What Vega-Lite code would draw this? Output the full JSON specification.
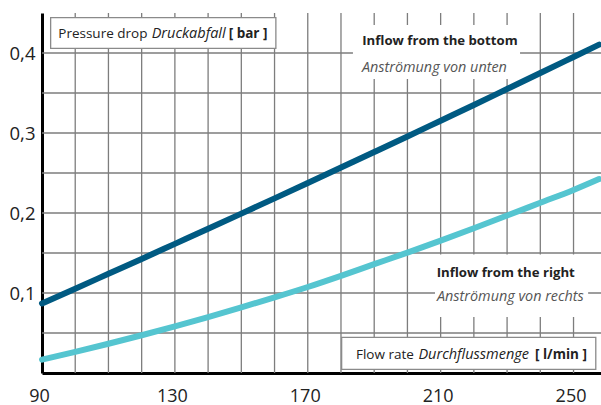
{
  "$schema": "https://vega.github.io/schema/vega-lite/v6.json",
  "width": 559,
  "height": 360,
  "autosize": {"type": "none"},
  "padding": {"left": 42, "top": 13, "right": 0, "bottom": 32},
  "background": "white",
  "config": {"view": {"stroke": null}, "font": "Open Sans"},
  "datasets": {
    "curves": [
      {"series": "bottom", "flow": 90, "dp": 0.087},
      {"series": "bottom", "flow": 100, "dp": 0.1054},
      {"series": "bottom", "flow": 110, "dp": 0.124},
      {"series": "bottom", "flow": 120, "dp": 0.1426},
      {"series": "bottom", "flow": 130, "dp": 0.1614},
      {"series": "bottom", "flow": 140, "dp": 0.1802},
      {"series": "bottom", "flow": 150, "dp": 0.1992},
      {"series": "bottom", "flow": 160, "dp": 0.2183},
      {"series": "bottom", "flow": 170, "dp": 0.2375},
      {"series": "bottom", "flow": 180, "dp": 0.2568},
      {"series": "bottom", "flow": 190, "dp": 0.2762},
      {"series": "bottom", "flow": 200, "dp": 0.2957},
      {"series": "bottom", "flow": 210, "dp": 0.3154},
      {"series": "bottom", "flow": 220, "dp": 0.3351},
      {"series": "bottom", "flow": 230, "dp": 0.355},
      {"series": "bottom", "flow": 240, "dp": 0.3749},
      {"series": "bottom", "flow": 250, "dp": 0.395},
      {"series": "bottom", "flow": 257.7, "dp": 0.4105},
      {"series": "right", "flow": 90, "dp": 0.0167},
      {"series": "right", "flow": 100, "dp": 0.0264},
      {"series": "right", "flow": 110, "dp": 0.0366},
      {"series": "right", "flow": 120, "dp": 0.0472},
      {"series": "right", "flow": 130, "dp": 0.0583},
      {"series": "right", "flow": 140, "dp": 0.0699},
      {"series": "right", "flow": 150, "dp": 0.082},
      {"series": "right", "flow": 160, "dp": 0.0945},
      {"series": "right", "flow": 170, "dp": 0.1075},
      {"series": "right", "flow": 180, "dp": 0.1215},
      {"series": "right", "flow": 190, "dp": 0.136},
      {"series": "right", "flow": 200, "dp": 0.1505},
      {"series": "right", "flow": 210, "dp": 0.1655},
      {"series": "right", "flow": 220, "dp": 0.181},
      {"series": "right", "flow": 230, "dp": 0.1968},
      {"series": "right", "flow": 240, "dp": 0.2128},
      {"series": "right", "flow": 250, "dp": 0.2288},
      {"series": "right", "flow": 257.7, "dp": 0.2425}
    ],
    "xGrid": [
      {"flow": 100}, {"flow": 110}, {"flow": 120}, {"flow": 130}, {"flow": 140},
      {"flow": 150}, {"flow": 160}, {"flow": 170}, {"flow": 180}, {"flow": 190},
      {"flow": 200}, {"flow": 210}, {"flow": 220}, {"flow": 230}, {"flow": 240},
      {"flow": 250}
    ],
    "yGrid": [
      {"dp": 0.05}, {"dp": 0.1}, {"dp": 0.15}, {"dp": 0.2}, {"dp": 0.25},
      {"dp": 0.3}, {"dp": 0.35}, {"dp": 0.4}
    ],
    "framedBoxes": [
      {"flow": 92.6, "flow2": 160.4, "dp": 0.4441, "dp2": 0.4059},
      {"flow": 180.2, "flow2": 256.7, "dp": 0.0446, "dp2": 0.0046}
    ],
    "plainBoxes": [
      {"flow": 183.6, "flow2": 233.9, "dp": 0.435, "dp2": 0.3675},
      {"flow": 208.3, "flow2": 254.4, "dp": 0.148, "dp2": 0.07}
    ],
    "regularText": [
      {"flow": 94.9, "dp": 0.4238, "label": "Pressure drop"},
      {"flow": 184.5, "dp": 0.0225, "label": "Flow rate"}
    ],
    "italicText": [
      {"flow": 123.0, "dp": 0.4238, "label": "Druckabfall"},
      {"flow": 203.3, "dp": 0.0225, "label": "Durchflussmenge"}
    ],
    "unitText": [
      {"flow": 146.2, "dp": 0.4238, "label": "[ bar ]"},
      {"flow": 238.4, "dp": 0.0225, "label": "[ l/min ]"}
    ],
    "seriesTitle": [
      {"flow": 186.4, "dp": 0.4156, "label": "Inflow from the bottom"},
      {"flow": 208.8, "dp": 0.125, "label": "Inflow from the right"}
    ],
    "seriesSub": [
      {"flow": 186.3, "dp": 0.3813, "label": "Anströmung von unten"},
      {"flow": 208.9, "dp": 0.0956, "label": "Anströmung von rechts"}
    ]
  },
  "layer": [
    {
      "data": {"name": "xGrid"},
      "mark": {"type": "rule", "color": "#7d7d7d", "strokeWidth": 1.3},
      "encoding": {"x": {"field": "flow", "type": "quantitative"}}
    },
    {
      "data": {"name": "yGrid"},
      "mark": {"type": "rule", "color": "#7d7d7d", "strokeWidth": 1.3},
      "encoding": {"y": {"field": "dp", "type": "quantitative"}}
    },
    {
      "data": {"name": "curves"},
      "mark": {"type": "line", "strokeWidth": 6, "strokeCap": "round", "interpolate": "monotone", "clip": false},
      "encoding": {
        "x": {
          "field": "flow", "type": "quantitative",
          "scale": {"domain": [90, 258.27], "nice": false, "zero": false},
          "axis": {
            "title": null,
            "values": [90, 130, 170, 210, 250],
            "ticks": false,
            "grid": false,
            "labelPadding": 14,
            "labelOffset": -3,
            "labelFontSize": 18,
            "labelFont": "Open Sans",
            "labelColor": "#222222",
            "labelOverlap": false,
            "labelBound": false,
            "labelFlush": false,
            "domainColor": "#000000",
            "domainWidth": 3
          }
        },
        "y": {
          "field": "dp", "type": "quantitative",
          "scale": {"domain": [0, 0.45], "nice": false},
          "axis": {
            "title": null,
            "values": [0.1, 0.2, 0.3, 0.4],
            "labelExpr": "replace(format(datum.value, '.1f'), '.', ',')",
            "ticks": false,
            "grid": false,
            "labelPadding": 7,
            "labelFontSize": 18.5,
            "labelFont": "Open Sans",
            "labelColor": "#222222",
            "labelBaseline": "middle",
            "labelOverlap": false,
            "labelBound": false,
            "labelFlush": false,
            "domainColor": "#000000",
            "domainWidth": 3
          }
        },
        "color": {
          "field": "series", "type": "nominal",
          "scale": {"domain": ["bottom", "right"], "range": ["#005a82", "#55c5d0"]},
          "legend": null
        }
      }
    },
    {
      "mark": {"type": "rule", "color": "#000000", "strokeWidth": 2.5},
      "encoding": {"y": {"datum": 0.45, "type": "quantitative"}}
    },
    {
      "data": {"name": "plainBoxes"},
      "mark": {"type": "rect", "fill": "white", "stroke": null},
      "encoding": {
        "x": {"field": "flow", "type": "quantitative"},
        "x2": {"field": "flow2"},
        "y": {"field": "dp", "type": "quantitative"},
        "y2": {"field": "dp2"}
      }
    },
    {
      "data": {"name": "framedBoxes"},
      "mark": {"type": "rect", "fill": "white", "stroke": "#8a8a8a", "strokeWidth": 1.3},
      "encoding": {
        "x": {"field": "flow", "type": "quantitative"},
        "x2": {"field": "flow2"},
        "y": {"field": "dp", "type": "quantitative"},
        "y2": {"field": "dp2"}
      }
    },
    {
      "data": {"name": "regularText"},
      "mark": {"type": "text", "align": "left", "baseline": "middle", "font": "Open Sans", "fontSize": 13.5, "color": "#222222"},
      "encoding": {
        "x": {"field": "flow", "type": "quantitative"},
        "y": {"field": "dp", "type": "quantitative"},
        "text": {"field": "label"}
      }
    },
    {
      "data": {"name": "italicText"},
      "mark": {"type": "text", "align": "left", "baseline": "middle", "font": "Open Sans", "fontSize": 14.5, "fontStyle": "italic", "color": "#222222"},
      "encoding": {
        "x": {"field": "flow", "type": "quantitative"},
        "y": {"field": "dp", "type": "quantitative"},
        "text": {"field": "label"}
      }
    },
    {
      "data": {"name": "unitText"},
      "mark": {"type": "text", "align": "left", "baseline": "middle", "font": "Open Sans", "fontSize": 13.5, "fontWeight": "bold", "color": "#222222"},
      "encoding": {
        "x": {"field": "flow", "type": "quantitative"},
        "y": {"field": "dp", "type": "quantitative"},
        "text": {"field": "label"}
      }
    },
    {
      "data": {"name": "seriesTitle"},
      "mark": {"type": "text", "align": "left", "baseline": "middle", "font": "Open Sans", "fontSize": 13.2, "fontWeight": "bold", "color": "#222222"},
      "encoding": {
        "x": {"field": "flow", "type": "quantitative"},
        "y": {"field": "dp", "type": "quantitative"},
        "text": {"field": "label"}
      }
    },
    {
      "data": {"name": "seriesSub"},
      "mark": {"type": "text", "align": "left", "baseline": "middle", "font": "Open Sans", "fontSize": 14.4, "fontStyle": "italic", "color": "#555555"},
      "encoding": {
        "x": {"field": "flow", "type": "quantitative"},
        "y": {"field": "dp", "type": "quantitative"},
        "text": {"field": "label"}
      }
    }
  ]
}
